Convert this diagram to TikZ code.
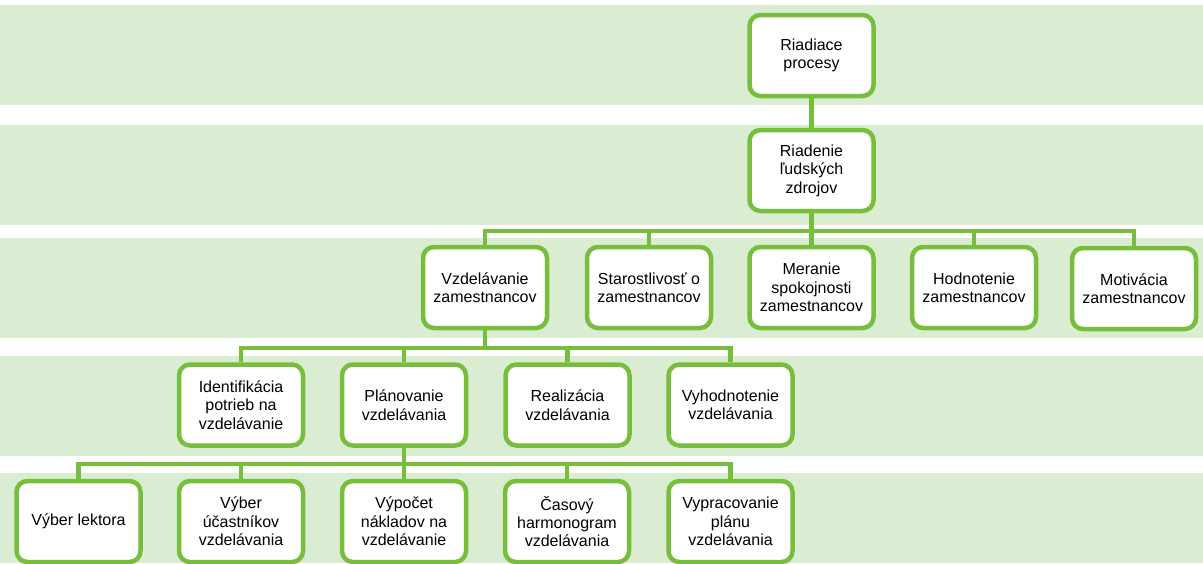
\documentclass[tikz,border=0pt]{standalone}
\usepackage{fontspec}
\setmainfont{Liberation Sans}
\definecolor{band}{HTML}{DAEDD3}
\definecolor{grn}{HTML}{76BE3C}
\begin{document}
\begin{tikzpicture}[x=1pt,y=-1pt,
  box/.style={draw=grn,line width=4.5pt,fill=white,rounded corners=11pt,
    minimum width=124pt,minimum height=81pt,align=center,
    font=\fontsize{16pt}{18.4pt}\selectfont,inner sep=2pt},
  conn/.style={draw=grn,line width=4.5pt}]
\useasboundingbox (0,0) rectangle (1203,563);
% bands
\fill[band] (0,5) rectangle (1203,105);
\fill[band] (0,125) rectangle (1203,225);
\fill[band] (0,238) rectangle (1203,338);
\fill[band] (0,356) rectangle (1203,456);
\fill[band] (0,473) rectangle (1203,563);
% bus coordinates
\coordinate (bus2) at (0,231);
\coordinate (bus3) at (0,348);
\coordinate (bus4) at (0,464);
% nodes
\node[box] (rp) at (811.5,55.5) {Riadiace\\procesy};
\node[box] (rlz) at (811.5,170.5) {Riadenie\\ľudských\\zdrojov};
\node[box] (vz) at (485,287.5) {Vzdelávanie\\zamestnancov};
\node[box] (st) at (649,287.5) {Starostlivosť o\\zamestnancov};
\node[box] (me) at (811.5,287.5) {Meranie\\spokojnosti\\zamestnancov};
\node[box] (ho) at (974,287.5) {Hodnotenie\\zamestnancov};
\node[box] (mo) at (1134,288.5) {Motivácia\\zamestnancov};
\node[box] (id) at (241,405) {Identifikácia\\potrieb na\\vzdelávanie};
\node[box] (pl) at (404,405) {Plánovanie\\vzdelávania};
\node[box] (re) at (567.5,405) {Realizácia\\vzdelávania};
\node[box] (vy) at (730.5,405) {Vyhodnotenie\\vzdelávania};
\node[box] (vl) at (78.5,521.5) {Výber lektora};
\node[box] (vu) at (241,521.5) {Výber\\účastníkov\\vzdelávania};
\node[box] (vn) at (404,521.5) {Výpočet\\nákladov na\\vzdelávanie};
\node[box] (ch) at (567,521.5) {Časový\\harmonogram\\vzdelávania};
\node[box] (vp) at (730.5,521.5) {Vypracovanie\\plánu\\vzdelávania};
% connectors
\draw[conn] (rp) -- (rlz);
\foreach \c in {vz,st,me,ho,mo}
  \draw[conn] (rlz.south) -- (rlz.south |- bus2) -| (\c.north);
\foreach \c in {id,pl,re,vy}
  \draw[conn] (vz.south) -- (vz.south |- bus3) -| (\c.north);
\foreach \c in {vl,vu,vn,ch,vp}
  \draw[conn] (pl.south) -- (pl.south |- bus4) -| (\c.north);
\end{tikzpicture}
\end{document}
